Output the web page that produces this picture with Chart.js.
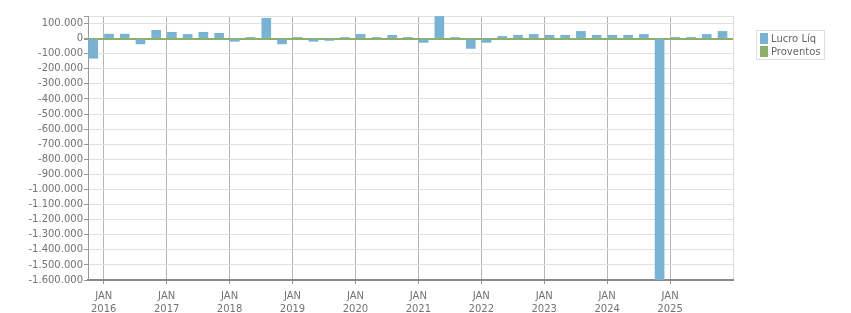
<!DOCTYPE html>
<html>
<head>
<meta charset="utf-8">
<title>Lucro Líquido trimestral</title>
<script src="https://cdn.jsdelivr.net/npm/chart.js"></script>
<style>
    body { margin: 0; background: #fff; font-family: "DejaVu Sans", Verdana, sans-serif; }
    .wrap { position: relative; width: 851px; height: 313px; }
    .legend {
        position: absolute; left: 756px; top: 30px;
        border: 1px solid #ddd; padding: 1px 3px 1px 3px;
        font-size: 10px; color: #666; line-height: 13px;
    }
    .legend div { display: flex; align-items: center; white-space: nowrap; }
    .legend span.sw { display: inline-block; width: 8px; height: 11px; margin-right: 3px; }
</style>
</head>
<body>
<div class="wrap">
    <canvas id="chart"></canvas>
    <div class="legend">
        <div><span class="sw" style="background:#7ab2d4"></span>Lucro Líq</div>
        <div><span class="sw" style="background:#8cb06a"></span>Proventos</div>
    </div>
</div>
<script>
    // Quarters (quarter-year) from 4T15 to 4T25
    const quarters = [
        '4T15',
        '1T16', '2T16', '3T16', '4T16',
        '1T17', '2T17', '3T17', '4T17',
        '1T18', '2T18', '3T18', '4T18',
        '1T19', '2T19', '3T19', '4T19',
        '1T20', '2T20', '3T20', '4T20',
        '1T21', '2T21', '3T21', '4T21',
        '1T22', '2T22', '3T22', '4T22',
        '1T23', '2T23', '3T23', '4T23',
        '1T24', '2T24', '3T24', '4T24',
        '1T25', '2T25', '3T25', '4T25'
    ];
    const lucroLiq = [
        -130000,
        30000, 30000, -35000, 55000,
        42000, 28000, 42000, 35000,
        -18000, 8000, 135000, -35000,
        8000, -18000, -12000, 8000,
        28000, 8000, 22000, 8000,
        -25000, 147000, 8000, -65000,
        -25000, 15000, 22000, 28000,
        22000, 22000, 48000, 22000,
        22000, 22000, 28000, -1600000,
        8000, 8000, 28000, 48000
    ];
    const proventos = quarters.map(() => 0);
    const yearLabels = ['2016', '2017', '2018', '2019', '2020', '2021', '2022', '2023', '2024', '2025'];
    const yTicks = [150000, 100000, 0, -100000, -200000, -300000, -400000, -500000, -600000, -700000,
        -800000, -900000, -1000000, -1100000, -1200000, -1300000, -1400000, -1500000, -1600000];
    const firstYear = 2016;

    // month offset from JAN of firstYear, one month into the quarter
    function quarterPos(q) {
        const n = parseInt(q[0]);
        const yr = 2000 + parseInt(q.slice(2));
        return (yr - firstYear) * 12 + (n - 1) * 3 + 1;
    }
    const toPoints = vals => vals.map((v, i) => ({ x: quarterPos(quarters[i]), y: v }));

    const fmt = v => v.toLocaleString('pt-BR');
    const xEnd = yearLabels.length * 12;

    Chart.defaults.font.family = '"DejaVu Sans", Verdana, sans-serif';
    Chart.defaults.font.size = 10;
    Chart.defaults.color = '#737373';

    new Chart(document.getElementById('chart'), {
        type: 'bar',
        data: {
            datasets: [
                { label: 'Lucro Líq', data: toPoints(lucroLiq), backgroundColor: '#7ab2d4' },
                { label: 'Proventos', data: toPoints(proventos), backgroundColor: '#8cb06a' }
            ]
        },
        options: {
            responsive: true,
            maintainAspectRatio: false,
            animation: false,
            layout: { padding: { top: 16, right: 118, left: 0, bottom: 0 } },
            datasets: { bar: { grouped: false, barThickness: 9 } },
            plugins: { legend: { display: false }, tooltip: { enabled: false } },
            scales: {
                x: {
                    type: 'linear',
                    offset: false,
                    min: -3,
                    max: xEnd,
                    afterBuildTicks: s => {
                        s.ticks = yearLabels.map((_, i) => ({ value: i * 12 }));
                        s.ticks.push({ value: xEnd });
                    },
                    afterFit: s => { s.height = 33; },
                    ticks: {
                        autoSkip: false,
                        maxRotation: 0,
                        padding: 6,
                        font: { size: 10, lineHeight: 1.3 },
                        callback: v => {
                            const y = yearLabels[v / 12];
                            return y ? ['JAN', y] : '';
                        }
                    },
                    grid: {
                        offset: false,
                        color: c => c.tick && c.tick.value === xEnd ? '#dcdcdc' : '#b4b4b4',
                        tickColor: c => c.tick && c.tick.value === xEnd ? 'rgba(0,0,0,0)' : '#999',
                        tickLength: 4
                    },
                    border: { color: '#888', width: 2 }
                },
                y: {
                    min: -1600000,
                    max: 150000,
                    afterBuildTicks: s => { s.ticks = yTicks.map(v => ({ value: v })); },
                    afterFit: s => { s.width = 88; },
                    ticks: {
                        autoSkip: false,
                        padding: 1,
                        callback: v => (v === 150000 ? '' : fmt(v))
                    },
                    grid: {
                        color: c => (c.tick && c.tick.value === 0 ? '#8cb06a' : '#e0e0e0'),
                        lineWidth: c => (c.tick && c.tick.value === 0 ? 2 : 1),
                        tickColor: '#999',
                        tickLength: 4
                    },
                    border: { color: '#999', width: 1 }
                }
            }
        }
    });
</script>
</body>
</html>
